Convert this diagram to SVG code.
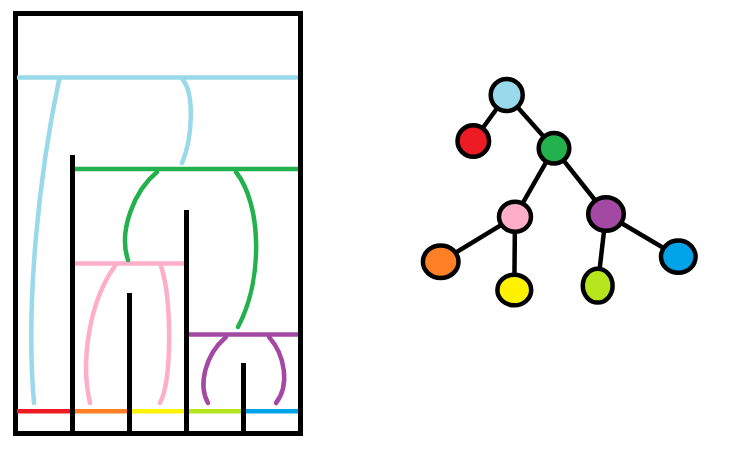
<svg xmlns="http://www.w3.org/2000/svg" width="742" height="450" viewBox="0 0 742 450">
<style>
.blk{stroke:#000;stroke-width:5;fill:none}
.c{fill:none;stroke-width:4.5;stroke-linecap:round}
.h{stroke-width:4.5}
.node{stroke:#000;stroke-width:4.5}
.edge{stroke:#000;stroke-width:4.5}
</style>
<rect width="742" height="450" fill="#fff"/>
<g id="frame">
<rect class="blk" x="15.5" y="13.5" width="285" height="420"/>
</g>
<g id="levels">
<line class="h" x1="17" y1="77.5" x2="298" y2="77.5" stroke="#99D9EA"/>
<line class="h" x1="75" y1="169" x2="298" y2="169" stroke="#22B14C"/>
<line class="h" x1="75" y1="263.5" x2="184" y2="263.5" stroke="#FFAEC9"/>
<line class="h" x1="189" y1="334.5" x2="298" y2="334.5" stroke="#A349A4"/>
<line class="h" x1="17" y1="411.3" x2="70" y2="411.3" stroke="#ED1C24"/>
<line class="h" x1="75" y1="411.3" x2="127" y2="411.3" stroke="#FF7F27"/>
<line class="h" x1="132" y1="411.3" x2="184" y2="411.3" stroke="#FFF200"/>
<line class="h" x1="189" y1="411.3" x2="241" y2="411.3" stroke="#B5E61D"/>
<line class="h" x1="246" y1="411.3" x2="298" y2="411.3" stroke="#00A2E8"/>
</g>
<g id="walls">
<line class="blk" x1="72.5" y1="155" x2="72.5" y2="433"/>
<line class="blk" x1="186.5" y1="210" x2="186.5" y2="433"/>
<line class="blk" x1="129.5" y1="293" x2="129.5" y2="433"/>
<line class="blk" x1="243.5" y1="363" x2="243.5" y2="433"/>
</g>
<g id="curves">
<path class="c" stroke="#99D9EA" d="M59 80 C40 170 25 300 34 403"/>
<path class="c" stroke="#99D9EA" d="M183 80 C195 95 192 140 182 163"/>
<path class="c" stroke="#22B14C" d="M157 172 C135 190 118 230 128 260"/>
<path class="c" stroke="#22B14C" d="M236 172 C262 205 263 280 238 327"/>
<path class="c" stroke="#FFAEC9" d="M115 266 C90 300 80 360 90 403"/>
<path class="c" stroke="#FFAEC9" d="M161 266 C172 300 172 380 160 403"/>
<path class="c" stroke="#A349A4" d="M226 337 C205 355 198 385 208 403"/>
<path class="c" stroke="#A349A4" d="M269 337 C285 355 290 385 276 403"/>
</g>
<g id="connectors">
<line class="edge" x1="506.7" y1="95" x2="473.3" y2="141"/>
<line class="edge" x1="506.7" y1="95" x2="554" y2="148.3"/>
<line class="edge" x1="554" y1="148.3" x2="515" y2="216.7"/>
<line class="edge" x1="554" y1="148.3" x2="606" y2="214"/>
<line class="edge" x1="515" y1="216.7" x2="440.7" y2="261.7"/>
<line class="edge" x1="515" y1="216.7" x2="514.3" y2="290"/>
<line class="edge" x1="606" y1="214" x2="597.7" y2="285.7"/>
<line class="edge" x1="606" y1="214" x2="678.3" y2="256.7"/>
</g>
<g id="n-lightblue"><ellipse class="node" cx="506.7" cy="95" rx="16" ry="16" fill="#99D9EA"/></g>
<g id="n-red"><ellipse class="node" cx="473.3" cy="141" rx="15.8" ry="15.8" fill="#ED1C24"/></g>
<g id="n-green"><ellipse class="node" cx="554" cy="148.3" rx="15.3" ry="15.3" fill="#22B14C"/></g>
<g id="n-pink"><ellipse class="node" cx="515" cy="216.7" rx="16" ry="15" fill="#FFAEC9"/></g>
<g id="n-purple"><ellipse class="node" cx="606" cy="214" rx="17.8" ry="16.8" fill="#A349A4"/></g>
<g id="n-orange"><ellipse class="node" cx="440.7" cy="261.7" rx="17.8" ry="16.3" fill="#FF7F27"/></g>
<g id="n-yellow"><ellipse class="node" cx="514.3" cy="290" rx="16.9" ry="15.3" fill="#FFF200"/></g>
<g id="n-lime"><ellipse class="node" cx="597.7" cy="285.7" rx="14.9" ry="16.9" fill="#B5E61D"/></g>
<g id="n-blue"><ellipse class="node" cx="678.3" cy="256.7" rx="17.3" ry="16.1" fill="#00A2E8"/></g>
</svg>
